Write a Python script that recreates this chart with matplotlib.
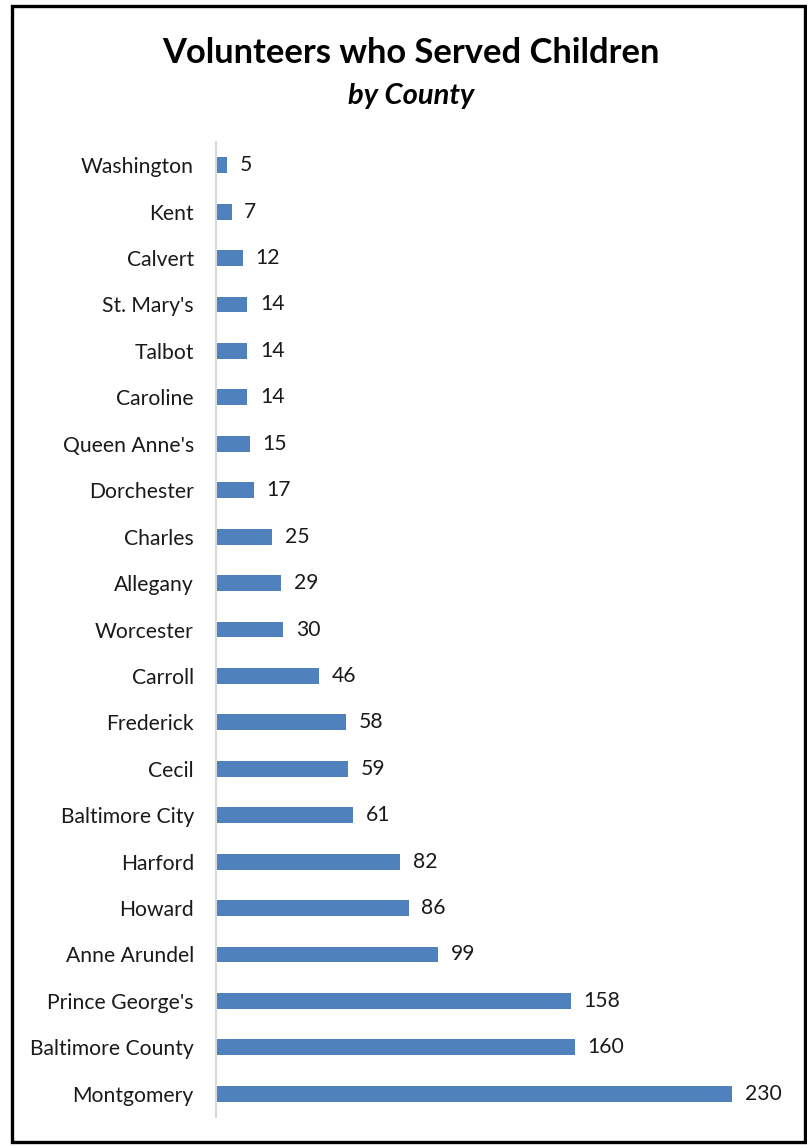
import matplotlib
matplotlib.use("Agg")
import matplotlib.pyplot as plt
from matplotlib.patches import Rectangle

# data (top to bottom)
counties = ["Washington", "Kent", "Calvert", "St. Mary's", "Talbot", "Caroline",
            "Queen Anne's", "Dorchester", "Charles", "Allegany", "Worcester",
            "Carroll", "Frederick", "Cecil", "Baltimore City", "Harford", "Howard",
            "Anne Arundel", "Prince George's", "Baltimore County", "Montgomery"]
volunteers = [5, 7, 12, 14, 14, 14, 15, 17, 25, 29, 30,
              46, 58, 59, 61, 82, 86, 99, 158, 160, 230]

plt.rcParams["font.family"] = ["Lato", "DejaVu Sans"]

W, H = 807, 1146
fig = plt.figure(figsize=(W / 100, H / 100), dpi=100)

# outer frame
fig.patches.append(Rectangle((11.5 / W, 4.5 / H), 793 / W, 1136 / H,
                             transform=fig.transFigure, fill=False,
                             edgecolor="black", linewidth=2.4))

ax = fig.add_axes([216 / W, 29 / H, 561 / W, 975 / H])
ypos = list(range(len(counties)))
ax.barh(ypos, volunteers, height=0.34, color="#4F81BD")
ax.set_ylim(len(counties) - 0.5, -0.5)
ax.set_xlim(0, 250)

ax.set_yticks(ypos)
ax.set_yticklabels(counties, fontsize=15.2, color="#1a1a1a")
ax.tick_params(axis="y", length=0, pad=16)
ax.set_xticks([])
for side in ["top", "right", "bottom"]:
    ax.spines[side].set_visible(False)
ax.spines["left"].set_color("#d9d9d9")
ax.spines["left"].set_linewidth(1.5)

for y, v in zip(ypos, volunteers):
    ax.annotate(str(v), (v, y), xytext=(9, 0), textcoords="offset points",
                va="center", ha="left", fontsize=15.2, color="#1a1a1a")

fig.text(411 / W, 1 - 53 / H, "Volunteers who Served Children",
         ha="center", va="center", fontsize=24.8, fontweight="bold")
fig.text(411 / W, 1 - 96 / H, "by County",
         ha="center", va="center", fontsize=21, fontweight="bold", style="italic")

fig.savefig("out.png", dpi=100)
